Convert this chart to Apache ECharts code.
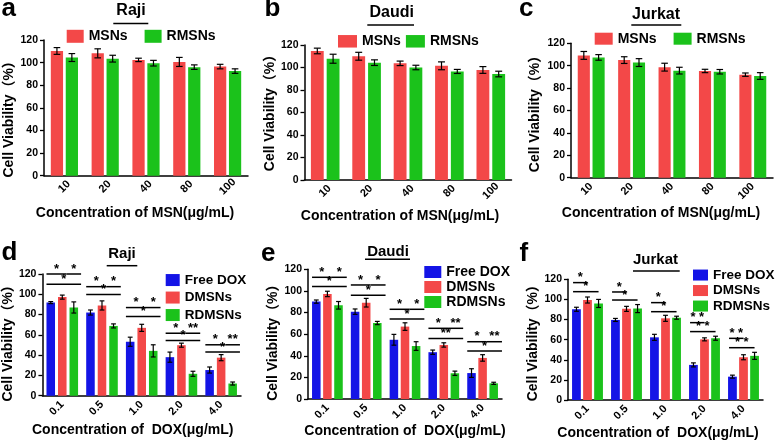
<!DOCTYPE html>
<html><head><meta charset="utf-8">
<script src="https://cdn.jsdelivr.net/npm/echarts@6/dist/echarts.min.js"></script>
<style>html,body{margin:0;padding:0;background:#fff}#c{width:778px;height:442px}</style>
</head><body><div id="c"></div>
<script>
// ---------- data ----------
const msnCats = ['10', '20', '40', '80', '100'];
const doxCats = ['0.1', '0.5', '1.0', '2.0', '4.0'];

// a: Raji (MSN)
const rajiMSNs = [110.3, 108.2, 102.4, 100.6, 96.5];
const rajiMSNsErr = [3, 4, 1.5, 4, 2];
const rajiRMSNs = [104.5, 103.5, 99.5, 96, 92.5];
const rajiRMSNsErr = [3.5, 3, 2.5, 2, 2];
// b: Daudi (MSN)
const daudiMSNs = [114.7, 110, 103.7, 101.5, 97.8];
const daudiMSNsErr = [2.5, 3.5, 2, 3.5, 3];
const daudiRMSNs = [107.8, 104.3, 100, 96.5, 94.2];
const daudiRMSNsErr = [4, 2.5, 2, 1.8, 2.5];
// c: Jurkat (MSN)
const jurkatMSNs = [109.2, 105, 98.7, 95.3, 92];
const jurkatMSNsErr = [3.5, 3, 3.5, 1.5, 1.5];
const jurkatRMSNs = [107.4, 102.8, 95.6, 94.6, 90.8];
const jurkatRMSNsErr = [2.5, 3.5, 3, 2, 3];
// d: Raji (DOX)
const rajiFree = [91.8, 82, 53.2, 38, 25.3];
const rajiFreeErr = [1, 2.5, 4.5, 5, 3];
const rajiDMSNs = [97.2, 89, 66.9, 49.8, 37.5];
const rajiDMSNsErr = [2, 4.5, 3.5, 2, 3];
const rajiRDMSNs = [87, 68.8, 44.2, 21.6, 12];
const rajiRDMSNsErr = [5.5, 2, 6, 2.5, 1.5];
// e: Daudi (DOX)
const daudiFree = [90.1, 80.8, 54.8, 43.3, 24];
const daudiFreeErr = [1.5, 2.5, 5, 2, 4];
const daudiDMSNs = [97.2, 89.1, 67, 50, 38];
const daudiDMSNsErr = [2.5, 4, 3.5, 2, 3];
const daudiRDMSNs = [86.7, 70.3, 49, 23.8, 14.5];
const daudiRDMSNsErr = [3.5, 1.5, 4, 2, 1];
// f: Jurkat (DOX)
const jurkatFree = [90.2, 79.6, 62.3, 34.9, 23.2];
const jurkatFreeErr = [2, 1.5, 3, 2, 1.5];
const jurkatDMSNs = [99.4, 90.6, 81.2, 60.3, 42.5];
const jurkatDMSNsErr = [3, 2.5, 3, 1.5, 2.5];
const jurkatRDMSNs = [96, 90.9, 81.8, 61.4, 43.9];
const jurkatRDMSNsErr = [4, 4, 1.5, 2, 3.5];

// significance: [group, barA, barB, level, label]
const sigRaji = [
  [0, 0, 1, 120, '*'], [0, 1, 2, 120, '*'], [0, 0, 2, 110, '*'],
  [1, 0, 1, 107.5, '*'], [1, 1, 2, 107.5, '*'], [1, 0, 2, 99.7, '*'],
  [2, 0, 1, 86.9, '*'], [2, 1, 2, 86.9, '*'], [2, 0, 2, 78, '*'],
  [3, 0, 1, 61.6, '*'], [3, 1, 2, 61.6, '**'], [3, 0, 2, 54.4, '*'],
  [4, 0, 1, 50.2, '*'], [4, 1, 2, 50.2, '**'], [4, 0, 2, 43, '*']
];
const sigDaudi = [
  [0, 0, 1, 112.6, '*'], [0, 1, 2, 112.6, '*'], [0, 0, 2, 104, '*'],
  [1, 0, 1, 105.5, '*'], [1, 1, 2, 105.5, '*'], [1, 0, 2, 96, '*'],
  [2, 0, 1, 83, '*'], [2, 1, 2, 83, '*'], [2, 0, 2, 74, '*'],
  [3, 0, 1, 65.4, '*'], [3, 1, 2, 65.4, '**'], [3, 0, 2, 56, '**'],
  [4, 0, 1, 53, '*'], [4, 1, 2, 53, '**'], [4, 0, 2, 44.4, '*']
];
const sigJurkat = [
  [0, 0, 1, 116.7, '*'], [0, 0, 2, 107.7, '*'],
  [1, 0, 1, 107.4, '*'], [1, 0, 2, 99.4, '*'],
  [2, 0, 1, 96.8, '*'], [2, 0, 2, 87.8, '*'],
  [3, 0, 1, 76.9, '* *'], [3, 0, 2, 68, '* *'],
  [4, 0, 1, 61.3, '* *'], [4, 0, 2, 52, '* *']
];

// ---------- style / layout ----------
const RED = '#f34848', GREEN = '#1bc21b', BLUE = '#1414e6';
const FONT = '"Liberation Sans", Arial, "Noto Sans CJK SC", sans-serif';
const MSN_NAME = 'Concentration of MSN(μg/mL)';
const DOX_NAME = 'Concentration of  DOX(μg/mL)';
const Y_NAME = 'Cell Viability（%）';

const panels = [
  { grid: { left: 44, top: 40, width: 204, height: 135.7 }, cats: msnCats, xName: MSN_NAME, xNameGap: 30, xShift: 22,
    yNameGap: 27, yShift: 16, labelCenter: true, pct: 0.30, gp: 0.22, yFont: 10.5,
    series: [['MSNs', rajiMSNs, rajiMSNsErr, RED], ['RMSNs', rajiRMSNs, rajiRMSNsErr, GREEN]],
    legend: { left: 66.7, top: 29.3, orient: 'horizontal', itemWidth: 17, itemHeight: 13, itemGap: 17, fontSize: 14 } },
  { grid: { left: 304.5, top: 45, width: 207, height: 135 }, cats: msnCats, xName: MSN_NAME, xNameGap: 29, xShift: 16,
    yNameGap: 22.5, yShift: -6, labelCenter: true, pct: 0.31, gp: 0.23, yFont: 10.5,
    series: [['MSNs', daudiMSNs, daudiMSNsErr, RED], ['RMSNs', daudiRMSNs, daudiRMSNsErr, GREEN]],
    legend: { left: 338, top: 34.3, orient: 'horizontal', itemWidth: 19, itemHeight: 12.5, itemGap: 5, fontSize: 14 } },
  { grid: { left: 571, top: 43.3, width: 202, height: 134.4 }, cats: msnCats, xName: MSN_NAME, xNameGap: 28, xShift: 22,
    yNameGap: 28.5, yShift: 0, labelCenter: false, pct: 0.30, gp: 0.22, yFont: 10.5,
    series: [['MSNs', jurkatMSNs, jurkatMSNsErr, RED], ['RMSNs', jurkatRMSNs, jurkatRMSNsErr, GREEN]],
    legend: { left: 594.7, top: 31.7, orient: 'horizontal', itemWidth: 18, itemHeight: 12, itemGap: 17, fontSize: 14 } },
  { grid: { left: 42, top: 274, width: 199, height: 121.7 }, cats: doxCats, xName: DOX_NAME, xNameGap: 27, xShift: 18,
    yNameGap: 26, yShift: 10, labelCenter: false, pct: 0.215, gp: 0.35, yFont: 10.5,
    series: [['Free DOX', rajiFree, rajiFreeErr, BLUE], ['DMSNs', rajiDMSNs, rajiDMSNsErr, RED], ['RDMSNs', rajiRDMSNs, rajiRDMSNsErr, GREEN]],
    sig: sigRaji, sigMode: 'split', sigExt: 3,
    legend: { left: 165.7, top: 273.3, orient: 'vertical', itemWidth: 14, itemHeight: 12, itemGap: 4, fontSize: 13.5 } },
  { grid: { left: 308, top: 269.3, width: 194, height: 129.7 }, cats: doxCats, xName: DOX_NAME, xNameGap: 19.5, xShift: 0,
    yNameGap: 23.5, yShift: 10, labelCenter: false, pct: 0.22, gp: 0.30, yFont: 10.5,
    series: [['Free DOX', daudiFree, daudiFreeErr, BLUE], ['DMSNs', daudiDMSNs, daudiDMSNsErr, RED], ['RDMSNs', daudiRDMSNs, daudiRDMSNsErr, GREEN]],
    sig: sigDaudi, sigMode: 'split', sigExt: 4,
    legend: { left: 424.3, top: 265, orient: 'vertical', itemWidth: 17, itemHeight: 12, itemGap: 1, fontSize: 14 } },
  { grid: { left: 568, top: 279.3, width: 195, height: 120.7 }, cats: doxCats, xName: DOX_NAME, xNameGap: 25.8, xShift: 15,
    yNameGap: 25.5, yShift: 0, labelCenter: false, pct: 0.225, gp: 0.26, yFont: 10.5,
    series: [['Free DOX', jurkatFree, jurkatFreeErr, BLUE], ['DMSNs', jurkatDMSNs, jurkatDMSNsErr, RED], ['RDMSNs', jurkatRDMSNs, jurkatRDMSNsErr, GREEN]],
    sig: sigJurkat, sigMode: 'pair', sigExt: 0,
    legend: { left: 693, top: 268.3, orient: 'vertical', itemWidth: 15, itemHeight: 11, itemGap: 2, fontSize: 13.5 } }
];

const titles = [
  { text: 'Raji', x: 131, y: 10.4, fs: 16, line: [113.3, 148.3, 23.5] },
  { text: 'Daudi', x: 391.7, y: 12.7, fs: 16, line: [367.3, 414, 25] },
  { text: 'Jurkat', x: 656, y: 14.4, fs: 16, line: [631.3, 681.3, 25] },
  { text: 'Raji', x: 122, y: 253.8, fs: 15, line: [106.7, 137.3, 265.7] },
  { text: 'Daudi', x: 388, y: 251.4, fs: 15, line: [365, 410, 259.3] },
  { text: 'Jurkat', x: 655.5, y: 259.7, fs: 15, line: [633, 679.7, 271] }
];
const letters = [
  { t: 'a', x: 1.5, y: 9.2 }, { t: 'b', x: 264.5, y: 9 }, { t: 'c', x: 519, y: 9 },
  { t: 'd', x: 1.5, y: 252.5 }, { t: 'e', x: 261, y: 254.2 }, { t: 'f', x: 519.5, y: 254.2 }
];

// ---------- build option ----------
function barPos(api, g, k, n, pct, gp) {
  const c = api.coord([g, 0])[0];
  const band = api.size([1, 0])[0];
  const w = band * pct, gap = w * gp;
  const total = n * w + (n - 1) * gap;
  const cx = c - total / 2 + k * (w + gap) + w / 2;
  return { cx: cx, w: w, l: cx - w / 2, r: cx + w / 2 };
}

const grids = [], xAxes = [], yAxes = [], series = [], legends = [], graphics = [];
panels.forEach((p, pi) => {
  grids.push(Object.assign({ containLabel: false }, p.grid));
  xAxes.push({
    type: 'category', gridIndex: pi, data: p.cats,
    name: p.xName, nameLocation: 'middle', nameGap: p.xNameGap,
    nameTextStyle: { fontFamily: FONT, fontWeight: 'bold', fontSize: 14, color: '#000', padding: [0, p.xShift, 0, 0] },
    axisLine: { lineStyle: { color: '#000', width: 1.5 } },
    axisTick: { alignWithLabel: true, length: 4, lineStyle: { color: '#000', width: 1.3 } },
    axisLabel: Object.assign({ rotate: 45, interval: 0, fontFamily: FONT, fontWeight: 'bold', fontSize: 11, color: '#000' },
      p.labelCenter ? { align: 'center', verticalAlign: 'middle', margin: 11 } : { margin: 7 }),
    splitLine: { show: false }
  });
  yAxes.push({
    type: 'value', gridIndex: pi, min: 0, max: 120, interval: 20,
    name: Y_NAME, nameLocation: 'middle', nameGap: p.yNameGap,
    nameTextStyle: { fontFamily: FONT, fontWeight: 'bold', fontSize: 14, color: '#000',
      padding: p.yShift >= 0 ? [0, p.yShift, 0, 0] : [0, 0, 0, -p.yShift] },
    axisLine: { show: true, lineStyle: { color: '#000', width: 1.5 } },
    axisTick: { show: true, length: 4, lineStyle: { color: '#000', width: 1.3 } },
    axisLabel: { fontFamily: FONT, fontWeight: 'bold', fontSize: p.yFont, color: '#000', margin: 6 },
    splitLine: { show: false }
  });
  const n = p.series.length;
  p.series.forEach((s, k) => {
    series.push({
      type: 'bar', name: s[0], xAxisIndex: pi, yAxisIndex: pi, data: s[1],
      barWidth: (p.pct * 100) + '%', barGap: (p.gp * 100) + '%',
      itemStyle: { color: s[3] }, silent: true, animation: false
    });
    series.push({
      type: 'custom', name: s[0] + ' err', xAxisIndex: pi, yAxisIndex: pi, z: 5, animation: false, silent: true,
      data: s[1].map((v, i) => [i, v, s[2][i]]),
      renderItem: (params, api) => {
        const g = api.value(0), v = api.value(1), e = api.value(2);
        const bp = barPos(api, g, k, n, p.pct, p.gp);
        const yT = api.coord([g, v + e])[1], yB = api.coord([g, v - e])[1];
        const half = Math.max(bp.w * 0.27, 2.4);
        const st = { stroke: '#000', lineWidth: 1.2 };
        return { type: 'group', children: [
          { type: 'line', shape: { x1: bp.cx, y1: yT, x2: bp.cx, y2: yB }, style: st },
          { type: 'line', shape: { x1: bp.cx - half, y1: yT, x2: bp.cx + half, y2: yT }, style: st },
          { type: 'line', shape: { x1: bp.cx - half, y1: yB, x2: bp.cx + half, y2: yB }, style: st }
        ] };
      }
    });
  });
  if (p.sig) {
    const sig = p.sig;
    series.push({
      type: 'custom', name: 'sig' + pi, xAxisIndex: pi, yAxisIndex: pi, z: 6, animation: false, silent: true, clip: false,
      data: sig.map(d => [d[0], d[1], d[2], d[3]]),
      renderItem: (params, api) => {
        const d = sig[params.dataIndex];
        const g = d[0], a = d[1], b = d[2];
        const A = barPos(api, g, a, n, p.pct, p.gp), B = barPos(api, g, b, n, p.pct, p.gp);
        const y = api.coord([g, d[3]])[1];
        let x1, x2;
        if (p.sigMode === 'split') {
          x1 = a === 0 ? A.l : A.r;
          x2 = b === 1 ? B.r : B.r + p.sigExt;
        } else {
          x1 = A.l + 1; x2 = B.cx;
        }
        return { type: 'group', children: [
          { type: 'line', shape: { x1: x1, y1: y, x2: x2, y2: y }, style: { stroke: '#000', lineWidth: 1.5 } },
          { type: 'text', style: { x: (x1 + x2) / 2, y: y - 5, text: d[4], align: 'center', verticalAlign: 'middle',
            font: 'bold 13px ' + FONT, fill: '#000' } }
        ] };
      }
    });
  }
  const L = p.legend;
  legends.push({
    data: p.series.map(s => s[0]), left: L.left, top: L.top, orient: L.orient, icon: 'rect',
    itemWidth: L.itemWidth, itemHeight: L.itemHeight, itemGap: L.itemGap, padding: 0, selectedMode: false,
    textStyle: { fontFamily: FONT, fontWeight: 'bold', fontSize: L.fontSize, color: '#000' }
  });
});

titles.forEach(t => {
  graphics.push({ type: 'text', style: { x: t.x, y: t.y, text: t.text, align: 'center', verticalAlign: 'middle',
    font: 'bold ' + t.fs + 'px ' + FONT, fill: '#000' } });
  graphics.push({ type: 'line', shape: { x1: t.line[0], y1: t.line[2], x2: t.line[1], y2: t.line[2] },
    style: { stroke: '#000', lineWidth: 1.5 } });
});
letters.forEach(l => {
  graphics.push({ type: 'text', style: { x: l.x, y: l.y, text: l.t, align: 'left', verticalAlign: 'middle',
    font: 'bold 26px ' + FONT, fill: '#000' } });
});

const chart = echarts.init(document.getElementById('c'), null, { renderer: 'canvas' });
chart.setOption({
  backgroundColor: '#fff', animation: false, textStyle: { fontFamily: FONT },
  grid: grids, xAxis: xAxes, yAxis: yAxes, series: series, legend: legends, graphic: graphics
});
</script></body></html>
